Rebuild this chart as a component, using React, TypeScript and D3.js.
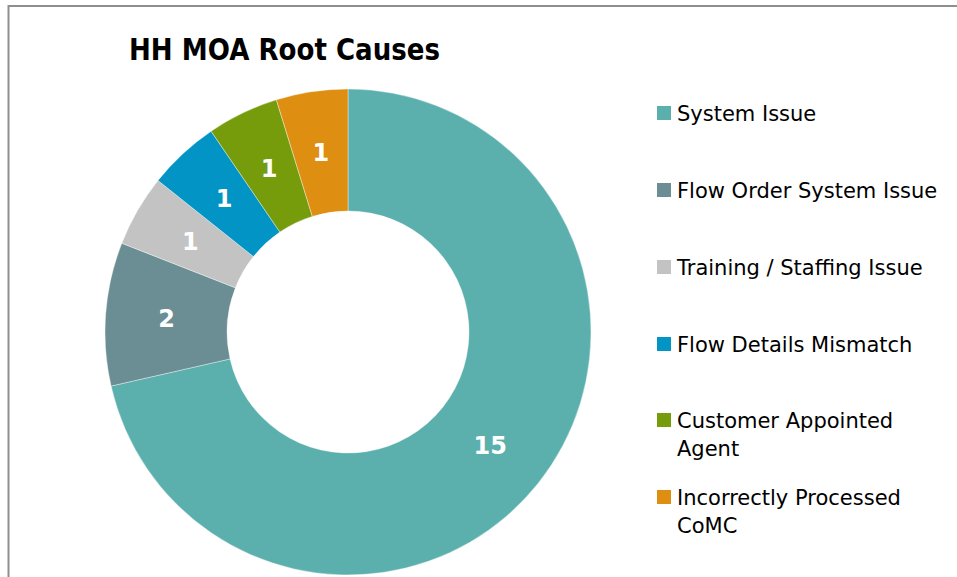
import React from "react";
import * as d3 from "d3";

const categories = [
  "System Issue",
  "Flow Order System Issue",
  "Training / Staffing Issue",
  "Flow Details Mismatch",
  "Customer Appointed Agent",
  "Incorrectly Processed CoMC",
];
const values = [15, 2, 1, 1, 1, 1];
const legendLines = [
  ["System Issue"],
  ["Flow Order System Issue"],
  ["Training / Staffing Issue"],
  ["Flow Details Mismatch"],
  ["Customer Appointed", "Agent"],
  ["Incorrectly Processed", "CoMC"],
];
const colors = ["#5BB0AE", "#6A8E93", "#C3C3C3", "#0294C4", "#769C0B", "#DE8E10"];
const title = "HH MOA Root Causes";

export default function App() {
  const W = 957, H = 577;
  const cx = 348, cy = 332, outerR = 243, innerR = 121;
  const data = categories.map((c, i) => ({ c, v: values[i], color: colors[i] }));
  const pie = d3.pie<any>().value((d) => d.v).sort(null).startAngle(0).endAngle(2 * Math.PI);
  const arcs = pie(data);
  const arc = d3.arc<any>().innerRadius(innerR).outerRadius(outerR);
  const legendY = [113, 190, 267, 344, 420, 497];
  const font = "Tahoma, 'DejaVu Sans', Verdana, sans-serif";
  return (
    <svg width={W} height={H} style={{ position: "absolute", left: 0, top: 0, background: "#fff" }}>
      <rect x={8.5} y={6} width={W + 20} height={H + 20} fill="#fff" stroke="#8f8f8f" strokeWidth={2} />
      <text x={129} y={60} fontFamily={font} fontWeight="bold" fontSize={30} textLength={311} lengthAdjust="spacingAndGlyphs" fill="#000">
        {title}
      </text>
      <g transform={`translate(${cx},${cy})`}>
        {arcs.map((a, i) => (
          <path key={i} d={arc(a) || ""} fill={a.data.color} stroke="#ffffff" strokeOpacity={0.5} strokeWidth={0.75} />
        ))}
        {arcs.map((a, i) => {
          const [x, y] = arc.centroid(a);
          return (
            <text key={"l" + i} x={x} y={y} dy="0.36em" textAnchor="middle" fill="#fff" fontFamily={font} fontWeight="bold" fontSize={24}>
              {a.data.v}
            </text>
          );
        })}
      </g>
      <g>
        {legendLines.map((lines, i) => (
          <g key={i}>
            <rect x={657} y={legendY[i] - 7} width={14} height={14} fill={colors[i]} />
            {lines.map((ln, j) => (
              <text key={j} x={677} y={legendY[i] + j * 28.5} dy="0.36em" fontFamily={font} fontSize={21} fill="#000">
                {ln}
              </text>
            ))}
          </g>
        ))}
      </g>
    </svg>
  );
}
